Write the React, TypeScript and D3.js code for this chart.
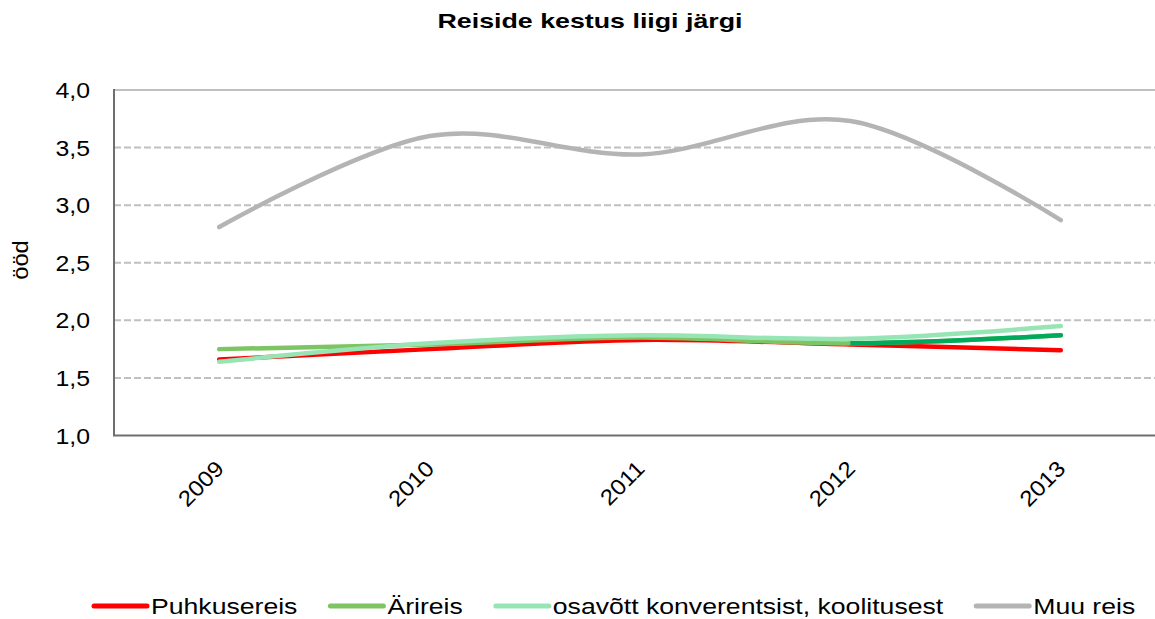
import { useEffect, useRef } from 'react'
import * as d3 from 'd3'

const title = 'Reiside kestus liigi järgi'
const yLabel = 'ööd'
const years = ['2009', '2010', '2011', '2012', '2013']
const yTicks = [1.0, 1.5, 2.0, 2.5, 3.0, 3.5, 4.0]

const puhkusereis = [1.66, 1.75, 1.83, 1.79, 1.74]
const arireis = [1.75, 1.79, 1.85, 1.80, 1.87]
const osavott = [1.64, 1.80, 1.87, 1.84, 1.95]
const muuReis = [2.81, 3.60, 3.44, 3.73, 2.87]

// Ärireis has its last segment (2012 -> 2013) formatted in a darker green
const arireisHighlightFrom = '2012'

const series = [
  { name: 'Puhkusereis', values: puhkusereis, color: '#FF0000' },
  { name: 'Ärireis', values: arireis, color: '#7DC462' },
  { name: 'osavõtt konverentsist, koolitusest', values: osavott, color: '#97E5B5' },
  { name: 'Muu reis', values: muuReis, color: '#B4B4B4' },
]

const WIDTH = 1155
const HEIGHT = 619
const FONT = '"Liberation Sans", Arial, sans-serif'

export default function App() {
  const svgRef = useRef<SVGSVGElement>(null)

  useEffect(() => {
    document.body.style.margin = '0'
    document.body.style.overflow = 'hidden'
    if (!svgRef.current) return

    const svg = d3.select(svgRef.current)
    svg.selectAll('*').remove()

    const plot = { left: 114, right: 1166, top: 90, bottom: 435.5 }

    const x = d3.scalePoint<string>()
      .domain(years)
      .range([plot.left, plot.right])
      .padding(0.5)

    const y = d3.scaleLinear()
      .domain([1, 4])
      .range([plot.bottom, plot.top])

    const fmt = (v: number) => v.toFixed(1).replace('.', ',')

    // text in the source is rendered a bit wide, so each label gets a local x-stretch
    const addText = (
      parent: d3.Selection<any, any, any, any>,
      px: number, py: number, str: string,
      o: { size: number, anchor?: string, rotate?: number, sx?: number, weight?: string }
    ) => {
      const g = parent.append('g')
        .attr('transform', `translate(${px},${py}) rotate(${o.rotate || 0}) scale(${o.sx || 1},1)`)
      return g.append('text')
        .attr('text-anchor', o.anchor || 'start')
        .style('font-family', FONT)
        .style('font-size', `${o.size}px`)
        .style('font-weight', o.weight || 'normal')
        .style('fill', '#000')
        .text(str)
    }

    // title
    addText(svg, 590, 28, title, { size: 20, anchor: 'middle', sx: 1.34, weight: 'bold' })

    // gridlines
    svg.append('g')
      .selectAll('line')
      .data(yTicks.filter(t => t > 1 && t < 4))
      .enter().append('line')
      .attr('x1', plot.left)
      .attr('x2', WIDTH)
      .attr('y1', d => y(d))
      .attr('y2', d => y(d))
      .attr('stroke', '#C0C0C0')
      .attr('stroke-width', 2)
      .attr('stroke-dasharray', '7,3')

    svg.append('line')
      .attr('x1', plot.left)
      .attr('x2', WIDTH)
      .attr('y1', y(4))
      .attr('y2', y(4))
      .attr('stroke', '#BFBFBF')
      .attr('stroke-width', 2)

    // axes
    svg.append('line')
      .attr('x1', plot.left)
      .attr('x2', plot.left)
      .attr('y1', y(4) - 1)
      .attr('y2', y(1))
      .attr('stroke', '#6E6E6E')
      .attr('stroke-width', 2)
    svg.append('line')
      .attr('x1', plot.left - 1)
      .attr('x2', WIDTH)
      .attr('y1', y(1))
      .attr('y2', y(1))
      .attr('stroke', '#6E6E6E')
      .attr('stroke-width', 2)

    // y tick labels
    yTicks.forEach(t => {
      addText(svg, 90, y(t) + 8, fmt(t), { size: 22, anchor: 'end', sx: 1.13 })
    })

    // y axis title
    addText(svg, 28, 260, yLabel, { size: 22, anchor: 'middle', rotate: -90, sx: 1.08 })

    // x tick labels
    years.forEach(yr => {
      addText(svg, x(yr)! + 6, 470, yr, { size: 22, anchor: 'end', rotate: -45, sx: 1.1 })
    })

    // lines
    const line = d3.line<number>()
      .x((_, i) => x(years[i])!)
      .y(d => y(d))
      .curve(d3.curveCardinal.tension(0))

    const clipId = 'ari-highlight'
    svg.append('clipPath')
      .attr('id', clipId)
      .append('rect')
      .attr('x', x(arireisHighlightFrom)!)
      .attr('y', 0)
      .attr('width', WIDTH)
      .attr('height', HEIGHT)

    const lines = svg.append('g')
    series.forEach(s => {
      lines.append('path')
        .attr('d', line(s.values)!)
        .attr('fill', 'none')
        .attr('stroke', s.color)
        .attr('stroke-width', 4.5)
        .attr('stroke-linecap', 'round')
        .attr('stroke-linejoin', 'round')
      if (s.name === 'Ärireis') {
        lines.append('path')
          .attr('d', line(s.values)!)
          .attr('fill', 'none')
          .attr('stroke', '#00A95C')
          .attr('stroke-width', 4.5)
          .attr('stroke-linecap', 'round')
          .attr('clip-path', `url(#${clipId})`)
      }
    })

    // legend
    const legend = svg.append('g')
    let cx = 94
    const ly = 606
    series.forEach(s => {
      legend.append('line')
        .attr('x1', cx)
        .attr('x2', cx + 53)
        .attr('y1', ly)
        .attr('y2', ly)
        .attr('stroke', s.color)
        .attr('stroke-width', 5)
        .attr('stroke-linecap', 'round')
      const sx = 1.21
      const t = addText(legend, cx + 57, ly + 8, s.name, { size: 22, sx })
      const w = (t.node() as SVGTextElement).getComputedTextLength() * sx
      cx += 57 + w + 33
    })
  }, [])

  return (
    <svg ref={svgRef} width={WIDTH} height={HEIGHT} style={{ display: 'block', background: '#fff' }}></svg>
  )
}
